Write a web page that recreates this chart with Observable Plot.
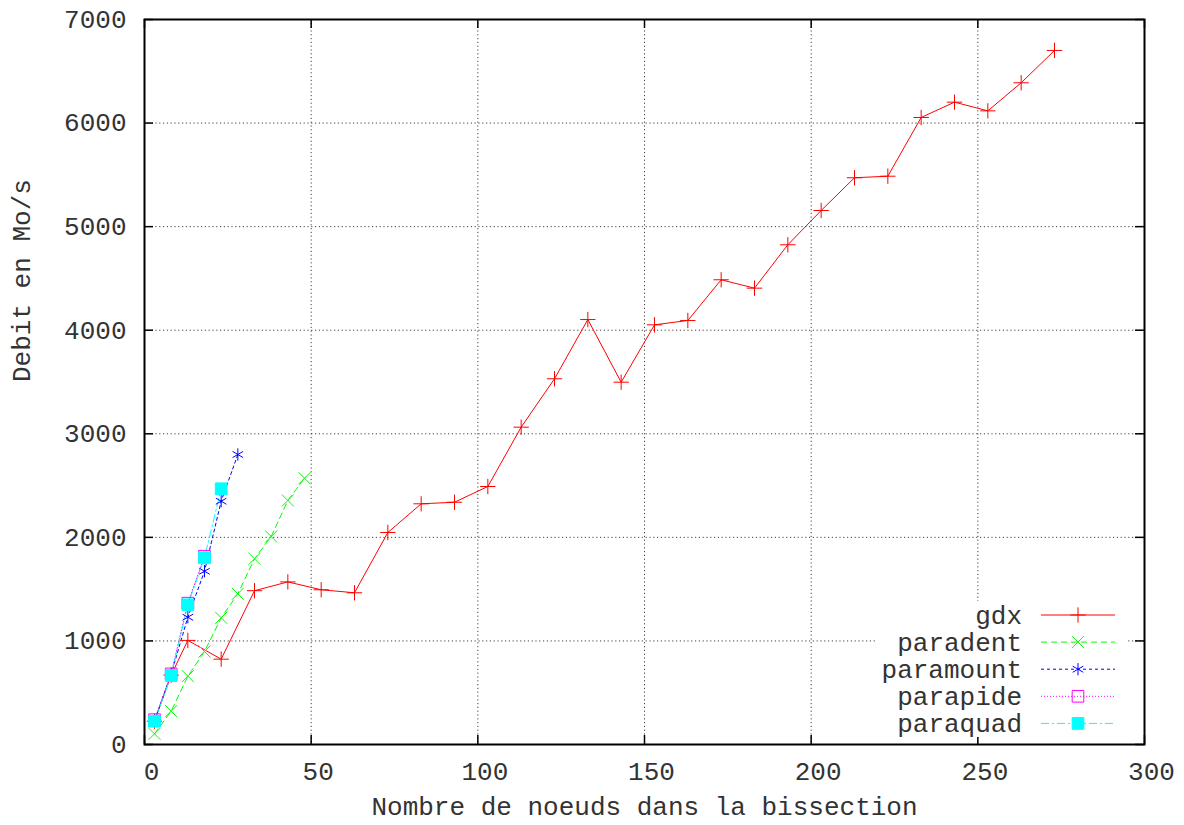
<!DOCTYPE html>
<html>
<head>
<meta charset="utf-8">
<script src="https://cdn.jsdelivr.net/npm/d3@7"></script>
<script src="https://cdn.jsdelivr.net/npm/@observablehq/plot@0.6"></script>
<style>
  html, body { margin: 0; padding: 0; background: #fff; }
  #chart svg { display: block; }
</style>
</head>
<body>
<div id="chart"></div>
<script>
// ---- data ----
const gdxX = [3, 8, 13, 23, 33, 43, 53, 63, 73, 83, 93, 103, 113, 123, 133, 143, 153, 163, 173, 183, 193, 203, 213, 223, 233, 243, 253, 263, 273];
const gdxY = [225, 670, 1005, 824, 1485, 1570, 1494, 1465, 2047, 2324, 2339, 2491, 3064, 3531, 4103, 3498, 4052, 4094, 4487, 4406, 4825, 5156, 5472, 5487, 6054, 6202, 6118, 6389, 6701];
const paradentX = [3, 8, 13, 18, 23, 28, 33, 38, 43, 48];
const paradentY = [103, 322, 660, 898, 1223, 1455, 1793, 2008, 2356, 2571];
const paramountX = [3, 8, 13, 18, 23, 28];
const paramountY = [230, 680, 1229, 1673, 2349, 2800];
const parapideX = [3, 8, 13, 18];
const parapideY = [240, 682, 1365, 1818];
const paraquadX = [3, 8, 13, 18, 23];
const paraquadY = [225, 666, 1349, 1803, 2469];

const xTicks = [0, 50, 100, 150, 200, 250, 300];
const yTicks = [0, 1000, 2000, 3000, 4000, 5000, 6000, 7000];
const seriesNames = ["gdx", "paradent", "paramount", "parapide", "paraquad"];
const xTitle = "Nombre de noeuds dans la bissection";
const yTitle = "Debit en Mo/s";

// ---- build tables ----
const toRows = (xs, ys) => xs.map((x, i) => ({x, y: ys[i]}));
const gdx = toRows(gdxX, gdxY);
const paradent = toRows(paradentX, paradentY);
const paramount = toRows(paramountX, paramountY);
const parapide = toRows(parapideX, parapideY);
const paraquad = toRows(paraquadX, paraquadY);

const styles = [
  {color: "#ff0000", dash: null, symbol: "plus", fill: "none", r: 5},
  {color: "#00ff00", dash: "6,4", symbol: "times", fill: "none", r: 5.5},
  {color: "#0000ff", dash: "3,3", symbol: "asterisk", fill: "none", r: 5.8},
  {color: "#ff00ff", dash: "1,2", symbol: "square2", fill: "none", r: 7.4},
  {color: "#00ffff", dash: "8,3,2,3", symbol: "square", fill: "#00ffff", r: 6.6}
];
const datasets = [gdx, paradent, paramount, parapide, paraquad];

const W = 1184, H = 825;
const mL = 144, mR = 40, mT = 19, mB = 81;
const innerW = W - mL - mR, innerH = H - mT - mB;
const tickLen = 9;
const textColor = "#333";
const fontFamily = "'Liberation Mono', 'DejaVu Sans Mono', monospace";

const gridStyle = {stroke: "#000", strokeOpacity: 0.75, strokeDasharray: "1.2,2.6", strokeWidth: 1};

const marks = [];
// grid
marks.push(Plot.ruleX(xTicks.slice(1, -1), {x: d => d, ...gridStyle}));
marks.push(Plot.ruleY(yTicks.slice(1, -1), {y: d => d, ...gridStyle}));
// inward ticks (bottom, top, left, right)
marks.push(Plot.tickX(xTicks, {x: d => d, insetTop: innerH - tickLen, stroke: "#000", strokeWidth: 1.5}));
marks.push(Plot.tickX(xTicks, {x: d => d, insetBottom: innerH - tickLen, stroke: "#000", strokeWidth: 1.5}));
marks.push(Plot.tickY(yTicks, {y: d => d, insetRight: innerW - tickLen, stroke: "#000", strokeWidth: 1.5}));
marks.push(Plot.tickY(yTicks, {y: d => d, insetLeft: innerW - tickLen, stroke: "#000", strokeWidth: 1.5}));
// series
datasets.forEach((data, i) => {
  const s = styles[i];
  marks.push(Plot.line(data, {x: "x", y: "y", stroke: s.color, strokeWidth: 1, strokeDasharray: s.dash}));
});
datasets.forEach((data, i) => {
  const s = styles[i];
  marks.push(Plot.dot(data, {x: "x", y: "y", symbol: () => s.symbol, r: s.r, stroke: s.color, fill: s.fill, strokeWidth: 1}));
});
// axes labels
marks.push(Plot.axisX(xTicks, {anchor: "bottom", tickSize: 0, tickPadding: 17, dx: 7, tickFormat: "d", label: null, fill: textColor}));
marks.push(Plot.axisY(yTicks, {anchor: "left", tickSize: 0, tickPadding: 18, tickFormat: "d", label: null, fill: textColor}));
marks.push(Plot.text([xTitle], {text: d => d, frameAnchor: "bottom", dy: 70, fill: textColor}));
marks.push(Plot.text([yTitle], {text: d => d, frameAnchor: "left", dx: -123, rotate: -90, fill: textColor}));
marks.push(Plot.frame({stroke: "#000", strokeWidth: 2}));

const chart = Plot.plot({
  width: W,
  height: H,
  marginLeft: mL,
  marginRight: mR,
  marginTop: mT,
  marginBottom: mB,
  x: {domain: [0, 300]},
  y: {domain: [0, 7000]},
  style: {fontFamily, fontSize: "26px", background: "#fff", color: textColor},
  marks
});

// ---- legend (key) inside the plot, bottom right ----
const svg = d3.select(chart);
const key = svg.append("g").attr("class", "key");
key.append("rect").attr("x", 877).attr("y", 601).attr("width", 250).attr("height", 136).attr("fill", "#fff");
const symGen = name => {
  const map = {plus: d3.symbolPlus, times: d3.symbolTimes, asterisk: d3.symbolAsterisk, square2: d3.symbolSquare2, square: d3.symbolSquare};
  return map[name];
};
seriesNames.forEach((name, i) => {
  const s = styles[i];
  const ly = 615 + i * 27.1;
  key.append("text").attr("x", 1022).attr("y", ly + 9).attr("text-anchor", "end")
    .attr("font-family", fontFamily).attr("font-size", 26).attr("fill", textColor)
    .text(name);
  key.append("line").attr("x1", 1041).attr("x2", 1115).attr("y1", ly).attr("y2", ly)
    .attr("stroke", s.color).attr("stroke-width", 1).attr("stroke-dasharray", s.dash);
  key.append("path").attr("transform", `translate(1078,${ly})`)
    .attr("d", d3.symbol(symGen(s.symbol), Math.PI * s.r * s.r)())
    .attr("stroke", s.color).attr("fill", s.fill).attr("stroke-width", 1);
});

document.getElementById("chart").appendChild(chart);
</script>
</body>
</html>
